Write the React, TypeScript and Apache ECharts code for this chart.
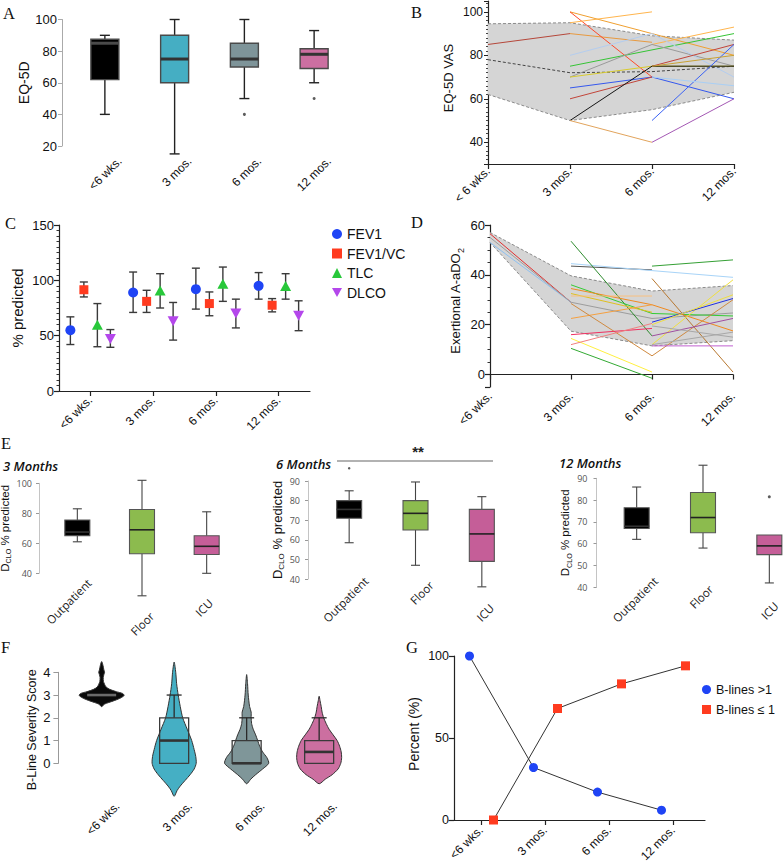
import React, { useEffect, useRef } from 'react';
import * as echarts from 'echarts';

const FONT = '"Liberation Sans", Arial, Helvetica, sans-serif';
const EFONT = '"Open Sans", "Liberation Sans", Arial, sans-serif';
const SERIF = '"Liberation Serif", "Times New Roman", serif';

// ---------------- categories ----------------
const TIME_CATS = ['<6 wks.', '3 mos.', '6 mos.', '12 mos.'];
const TIME_CATS_B = ['< 6 wks.', '3 mos.', '6 mos.', '12 mos.'];
const WARD_CATS = ['Outpatient', 'Floor', 'ICU'];

// ---------------- A: EQ-5D boxes [min, q1, median, q3, max] ----------------
const eq5dBoxes = [
  [40, 62, 85, 87.5, 90],
  [15, 60, 75, 90, 100],
  [50, 70, 75, 85, 100],
  [60, 69, 78, 81.5, 93],
];
const eq5dOutliers = [[2, 40], [3, 50]];
const eq5dFills = ['#000000', '#45AEC3', '#7E9499', '#CC6FA1'];

// ---------------- B: EQ-5D VAS ----------------
const vasUpper = [94.5, 95, 89, 87];
const vasLower = [62, 50, 55, 63];
const vasMean = [78, 72, 72.5, 75];
const vasPatients: (number | null)[][] = [
  [85, 90, null, null],
  [null, 100, 90, 80],
  [null, 90, 86, null],
  [null, 100, 70, null],
  [null, 95, 100, null],
  [null, null, 85, 93],
  [null, 75, 82.5, 90],
  [null, 70, 85, 75],
  [null, 80, 90, 70],
  [null, 70, 75, 75],
  [null, 65, 70, 60],
  [null, 60, 70, null],
  [null, null, 75, 85],
  [null, 50, 75, 75],
  [null, 50, 40, null],
  [null, null, 40, 60],
  [null, null, 50, 85],
  [null, null, 70, 66],
  [null, null, 75, 80],
];
const vasColors = ['#B5473A', '#F0A030', '#E89A40', '#FF4A2A', '#FFB54D', '#FFB54D', '#35C435', '#9A9A9A', '#B4CDEF', '#D9CC2E', '#3558EE', '#C2453A', '#C2453A', '#151515', '#E2A45C', '#A458B4', '#3A62F5', '#A9CFF5', '#C9A235'];

// ---------------- C: PFTs [mean, low, high] ----------------
const pftMeasures = ['FEV1', 'FEV1/VC', 'TLC', 'DLCO'];
const fev1 = [[55, 42, 67], [89, 71, 107.5], [92, 74, 111], [95, 83, 107]];
const fev1vc = [[91.5, 85, 98.5], [81, 71, 91], [79, 68, 89.5], [77.5, 71.5, 83.5]];
const tlc = [[59, 40, 79], [90, 75, 106], [96, 81, 112], [94, 83, 106]];
const dlco = [[48, 39.5, 55.5], [64, 46, 80], [71, 57, 83], [69, 54.5, 81.5]];

// ---------------- D: exertional A-aDO2 ----------------
const aadoUpper = [57, 39.6, 33.5, 35.7];
const aadoLower = [53, 17.4, 11.5, 13.6];
const aadoPatients: (number | null)[][] = [
  [56.5, 29, null, null],
  [53, 29, null, null],
  [55, 29, 22.5, 24.7],
  [null, 43.5, 42, null],
  [null, 44.5, 41.7, 39],
  [null, null, 43.5, 46],
  [null, 53.5, 15.5, null],
  [null, 36, 24.5, 23.5],
  [null, 34.5, 28, 17.5],
  [null, 32.5, 25, null],
  [null, 31.5, 31.5, null],
  [null, 22.5, 28, null],
  [null, 28.5, 7.5, 30],
  [null, null, 38.5, 1],
  [null, null, 12, 38],
  [null, 14.5, 1, null],
  [null, 10.5, -1.5, null],
  [null, 16, 18.5, null],
  [null, 12, 20.5, null],
  [null, null, 21, 30.5],
  [null, null, 15.5, 22.5],
  [null, null, 11.5, 11.5],
  [null, null, 20, 32],
  [null, null, 12, 17],
  [null, null, 19.5, 15],
];
const aadoColors = ['#E03030', '#8EC0F0', '#9C9C9C', '#555555', '#A8D4F8', '#35A035', '#2E8B2E', '#35CC35', '#F08A20', '#E0C020', '#F8C080', '#F5A040', '#D08A40', '#B87830', '#F0E040', '#FFF040', '#33AA33', '#F03060', '#F08080', '#2030E0', '#A050A0', '#C060D0', '#EEDD44', '#A8A8A8', '#A8A8A8'];

// ---------------- E: DLCO by ward [min, q1, median, q3, max] ----------------
const dlco3m = [[61, 65, 67.5, 75.5, 83], [25, 53, 69, 82.5, 102], [40, 52.5, 58, 65, 81]];
const dlco6m = [[58.5, 71, 75.5, 80, 85], [47, 65, 73.5, 80, 89.5], [36, 49, 63, 75.5, 82]];
const dlco6mOutliers = [[0, 96.5]];
const dlco12m = [[62, 67, 68, 76.5, 86], [58, 65, 72, 83.5, 96], [42, 55, 59, 64, 64]];
const dlco12mOutliers = [[2, 81.5]];
const wardFills = ['#000000', '#8CBB4E', '#C55E98'];

// ---------------- F: B-line violins [score, relative density] ----------------
const violinWks = [[2.49, 0], [2.6, 0.12], [2.74, 0.52], [2.85, 0.8], [2.95, 0.97], [3.0, 1.0], [3.07, 0.93], [3.15, 0.65], [3.25, 0.36], [3.35, 0.2], [3.47, 0.13], [3.6, 0.08], [3.77, 0.07], [3.9, 0.1], [4.0, 0.13], [4.1, 0.1], [4.3, 0.06], [4.47, 0]];
const violin3m = [[-1.45, 0], [-1.2, 0.13], [-1.0, 0.27], [-0.75, 0.49], [-0.5, 0.71], [-0.25, 0.89], [0, 0.98], [0.3, 0.96], [0.6, 0.89], [1, 0.78], [1.5, 0.58], [2, 0.38], [2.5, 0.27], [3, 0.18], [3.5, 0.11], [4, 0.07], [4.45, 0]];
const violin6m = [[-0.9, 0], [-0.7, 0.18], [-0.5, 0.4], [-0.25, 0.71], [0, 0.98], [0.25, 0.9], [0.5, 0.71], [0.75, 0.58], [1, 0.49], [1.25, 0.4], [1.5, 0.29], [1.75, 0.22], [2, 0.2], [2.25, 0.2], [2.5, 0.13], [3, 0.07], [3.5, 0.04], [3.9, 0]];
const violin12m = [[-0.9, 0], [-0.7, 0.27], [-0.5, 0.58], [-0.25, 0.84], [0, 0.96], [0.25, 1.0], [0.5, 0.98], [0.75, 0.91], [1, 0.8], [1.25, 0.62], [1.5, 0.44], [1.75, 0.31], [2, 0.2], [2.25, 0.13], [2.5, 0.09], [2.75, 0.04], [2.95, 0]];
const violinProfiles = [violinWks, violin3m, violin6m, violin12m];
const bLineBoxes = [[3, 3, 3, 3, 3], [0, 0, 1, 2, 3], [0, 0, 0, 1, 2], [0, 0, 0.5, 1, 2]];
const violinFills = ['#0A0A0A', '#45AFC4', '#7F9699', '#CC6FA0'];

// ---------------- G: B-lines percent ----------------
const bLinesOver1 = [100, 32, 17, 6];
const bLinesAtMost1 = [0, 68, 83, 94];

// ================= helpers =================
type BoxStyle = { boxW: number; capW: number; fills: string[]; stroke: string; whisker: string; lw: number; medLw: number; medColors: string[] };

function makeBoxRenderer(s: BoxStyle) {
  return (params: any, api: any) => {
    const c = api.value(0);
    const P = (k: number) => api.coord([c, api.value(k)]);
    const lo = P(1), q1 = P(2), md = P(3), q3 = P(4), hi = P(5);
    const x = md[0];
    const h = s.boxW / 2, w = s.capW / 2;
    const ls = { stroke: s.whisker, lineWidth: s.lw };
    const ch: any[] = [];
    if (hi[1] < q3[1] - 0.5) {
      ch.push({ type: 'line', shape: { x1: x, y1: hi[1], x2: x, y2: q3[1] }, style: ls });
      ch.push({ type: 'line', shape: { x1: x - w, y1: hi[1], x2: x + w, y2: hi[1] }, style: ls });
    }
    if (lo[1] > q1[1] + 0.5) {
      ch.push({ type: 'line', shape: { x1: x, y1: q1[1], x2: x, y2: lo[1] }, style: ls });
      ch.push({ type: 'line', shape: { x1: x - w, y1: lo[1], x2: x + w, y2: lo[1] }, style: ls });
    }
    if (q1[1] - q3[1] > 0.5) {
      ch.push({ type: 'rect', shape: { x: x - h, y: q3[1], width: s.boxW, height: q1[1] - q3[1] }, style: { fill: s.fills[params.dataIndex], stroke: s.stroke, lineWidth: s.lw } });
    }
    ch.push({ type: 'line', shape: { x1: x - h, y1: md[1], x2: x + h, y2: md[1] }, style: { stroke: s.medColors[params.dataIndex], lineWidth: s.medLw } });
    return { type: 'group', children: ch };
  };
}

function makePftRenderer(offset: number, marker: string, color: string) {
  return (params: any, api: any) => {
    const c = api.value(0);
    const m = api.coord([c, api.value(1)]);
    const lo = api.coord([c, api.value(2)]);
    const hi = api.coord([c, api.value(3)]);
    const x = m[0] + offset, y = m[1];
    const ls = { stroke: '#3a3a3a', lineWidth: 1.4 };
    const ch: any[] = [
      { type: 'line', shape: { x1: x, y1: hi[1], x2: x, y2: lo[1] }, style: ls },
      { type: 'line', shape: { x1: x - 4, y1: hi[1], x2: x + 4, y2: hi[1] }, style: ls },
      { type: 'line', shape: { x1: x - 4, y1: lo[1], x2: x + 4, y2: lo[1] }, style: ls },
    ];
    if (marker === 'circle') ch.push({ type: 'circle', shape: { cx: x, cy: y, r: 5 }, style: { fill: color } });
    else if (marker === 'rect') ch.push({ type: 'rect', shape: { x: x - 4.5, y: y - 4.5, width: 9, height: 9 }, style: { fill: color } });
    else if (marker === 'triangle') ch.push({ type: 'polygon', shape: { points: [[x, y - 6], [x - 5.5, y + 4], [x + 5.5, y + 4]] }, style: { fill: color } });
    else ch.push({ type: 'polygon', shape: { points: [[x - 5.5, y - 4], [x + 5.5, y - 4], [x, y + 6]] }, style: { fill: color } });
    return { type: 'group', children: ch };
  };
}

function makePointLineRenderer(values: number[], offset: number, marker: string, color: string) {
  return (params: any, api: any) => {
    const i = params.dataIndex;
    const p = api.coord([api.value(0), api.value(1)]);
    const x = p[0] + offset, y = p[1];
    const ch: any[] = [];
    if (i < values.length - 1) {
      const q = api.coord([i + 1, values[i + 1]]);
      ch.push({ type: 'line', shape: { x1: x, y1: y, x2: q[0] + offset, y2: q[1] }, style: { stroke: '#333', lineWidth: 1 } });
    }
    if (marker === 'circle') ch.push({ type: 'circle', shape: { cx: x, cy: y, r: 4.5 }, style: { fill: color } });
    else ch.push({ type: 'rect', shape: { x: x - 4.5, y: y - 4.5, width: 9, height: 9 }, style: { fill: color } });
    return { type: 'group', children: ch };
  };
}

const VIOLIN_HW = 22.5;
function violinRenderer(params: any, api: any) {
  const c = api.value(0);
  const prof = violinProfiles[c];
  const left = prof.map(([y, d]) => { const p = api.coord([c, y]); return [p[0] - d * VIOLIN_HW, p[1]]; });
  const right = prof.slice().reverse().map(([y, d]) => { const p = api.coord([c, y]); return [p[0] + d * VIOLIN_HW, p[1]]; });
  const pts = left.concat(right.slice(1, right.length - 1));
  return { type: 'polygon', shape: { points: pts, smooth: 0.25 }, style: { fill: violinFills[c], stroke: '#333', lineWidth: 1 } };
}

function rangePanel(ax: number, upper: number[], lower: number[], mean: number[] | null, lines: (number | null)[][], colors: string[]) {
  const st = 'band' + ax;
  const base = { type: 'line', xAxisIndex: ax, yAxisIndex: ax, symbol: 'none', silent: true };
  const out: any[] = [
    { ...base, stack: st, data: lower, lineStyle: { opacity: 0 }, z: 1 },
    { ...base, stack: st, data: upper.map((u, i) => +(u - lower[i]).toFixed(2)), lineStyle: { opacity: 0 }, areaStyle: { color: '#d5d5d5', opacity: 1 }, z: 1 },
    { ...base, data: upper, lineStyle: { color: '#8a8a8a', width: 1, type: [3, 2] }, z: 2 },
    { ...base, data: lower, lineStyle: { color: '#8a8a8a', width: 1, type: [3, 2] }, z: 2 },
  ];
  if (mean) out.push({ ...base, data: mean, lineStyle: { color: '#444', width: 1, type: [3, 2] }, z: 2 });
  lines.forEach((d, i) => out.push({ ...base, data: d, connectNulls: false, lineStyle: { color: colors[i], width: 1 }, z: 3 }));
  return out;
}

const hiddenX = (gridIndex: number, data: string[]) => ({
  type: 'category', gridIndex, data,
  axisLine: { show: false }, axisTick: { show: false }, axisLabel: { show: false }, splitLine: { show: false },
});

const shownX = (gridIndex: number, data: string[], boundaryGap: boolean, margin: number) => ({
  type: 'category', gridIndex, data, boundaryGap,
  axisLine: { show: true, lineStyle: { color: '#222', width: 1.2 } },
  axisTick: { show: true, length: 5, alignWithLabel: true, lineStyle: { color: '#222', width: 1.2 } },
  axisLabel: { rotate: 45, margin, fontSize: 12, color: '#111', fontFamily: FONT, interval: 0 },
  splitLine: { show: false },
});

const eName = (size: number) => ({
  name: '{a|D}{b|CLO}{a| % predicted}',
  nameLocation: 'middle',
  nameTextStyle: {
    fontSize: size, fontFamily: FONT, color: '#111',
    rich: {
      a: { fontSize: size, fontFamily: FONT, color: '#111', verticalAlign: 'bottom', padding: [0, 0, 2, 0] },
      b: { fontSize: size * 0.62, fontFamily: FONT, color: '#111', verticalAlign: 'bottom' },
    },
  },
});

const eYAxis = (gridIndex: number, max: number, interval: number, offset: number, margin: number, nameGap: number, nameSize: number) => ({
  type: 'value', gridIndex, min: 40, max, interval, offset,
  axisLine: { show: true, lineStyle: { color: '#c4c4c4', width: 1 } },
  axisTick: { show: true, length: 3, lineStyle: { color: '#999' } },
  axisLabel: { margin, fontSize: 9, color: '#555', fontFamily: EFONT },
  splitLine: { show: false },
  ...eName(nameSize),
  nameGap,
});

function buildOption() {
  const grids = [
    { left: 70, top: 19.5, width: 279, height: 126.5 },   // A
    { left: 488, top: 1, width: 246, height: 163 },        // B
    { left: 59, top: 225, width: 251, height: 166 },       // C
    { left: 490, top: 225, width: 243, height: 162 },      // D
    { left: 45, top: 483.3, width: 194, height: 90 },      // E1
    { left: 316, top: 481, width: 199, height: 98 },       // E2
    { left: 603.5, top: 478.3, width: 199, height: 109 },  // E3
    { left: 65.4, top: 672.3, width: 290, height: 91 },    // F
    { left: 449, top: 656, width: 256, height: 164 },      // G
  ].map((g) => ({ ...g, containLabel: false, outerBoundsMode: 'none' }));

  const xAxes = [
    hiddenX(0, TIME_CATS),
    shownX(1, TIME_CATS_B, false, 5),
    shownX(2, TIME_CATS, true, 7),
    shownX(3, TIME_CATS, false, 7),
    hiddenX(4, WARD_CATS),
    hiddenX(5, WARD_CATS),
    hiddenX(6, WARD_CATS),
    hiddenX(7, TIME_CATS),
    shownX(8, TIME_CATS, true, 8),
  ];

  const blackAxis = {
    axisLine: { show: true, lineStyle: { color: '#222', width: 1.2 } },
    axisTick: { show: true, length: 5, lineStyle: { color: '#222', width: 1.2 } },
    splitLine: { show: false },
  };
  const nameStyle = (size: number, pad?: number[]) => ({ fontSize: size, fontFamily: FONT, color: '#111', padding: pad || [0, 0, 0, 0] });

  const yAxes = [
    {
      type: 'value', gridIndex: 0, min: 20, max: 100, interval: 20, offset: 8,
      axisLine: { show: true, lineStyle: { color: '#aaa' } },
      axisTick: { show: true, length: 4, lineStyle: { color: '#aaa' } },
      axisLabel: { margin: 5, fontSize: 13, color: '#111', fontFamily: FONT },
      splitLine: { show: false },
      name: 'EQ-5D', nameLocation: 'middle', nameGap: 27, nameTextStyle: nameStyle(14),
    },
    {
      type: 'value', gridIndex: 1, min: 30, max: 105, splitNumber: 4, ...blackAxis,
      axisTick: { show: true, length: 4, lineStyle: { color: '#222' } },
      minorTick: { show: true, splitNumber: 10, length: 2, lineStyle: { color: '#444' } },
      axisLabel: { margin: 5, fontSize: 12, color: '#111', fontFamily: FONT, formatter: (v: number) => (v % 20 === 0 ? String(v) : '') },
      name: 'EQ-5D VAS', nameLocation: 'middle', nameGap: 33, nameTextStyle: nameStyle(13, [0, 0, 0, 9]),
    },
    {
      type: 'value', gridIndex: 2, min: 0, max: 150, interval: 50, ...blackAxis,
      minorTick: { show: true, splitNumber: 10, length: 2.5, lineStyle: { color: '#333' } },
      axisLabel: { margin: 5, fontSize: 13, color: '#111', fontFamily: FONT },
      name: '% predicted', nameLocation: 'middle', nameGap: 34, nameTextStyle: nameStyle(15),
    },
    {
      type: 'value', gridIndex: 3, min: -5, max: 60, splitNumber: 3, ...blackAxis,
      minorTick: { show: true, splitNumber: 4, length: 2.5, lineStyle: { color: '#333' } },
      axisLabel: { margin: 5, fontSize: 13, color: '#111', fontFamily: FONT, formatter: (v: number) => (v % 20 === 0 ? String(v) : '') },
      name: '{a|Exertional A-aDO}{b|2}', nameLocation: 'middle', nameGap: 25,
      nameTextStyle: {
        fontSize: 13, fontFamily: FONT, color: '#111', padding: [0, 0, 0, 10],
        rich: {
          a: { fontSize: 13, fontFamily: FONT, color: '#111', verticalAlign: 'bottom', padding: [0, 0, 3, 0] },
          b: { fontSize: 9, fontFamily: FONT, color: '#111', verticalAlign: 'bottom' },
        },
      },
    },
    eYAxis(4, 100, 20, 6, 7, 21, 11.5),
    eYAxis(5, 90, 10, 8, 8, 20, 13),
    eYAxis(6, 90, 10, 7, 9, 22, 11.5),
    {
      type: 'value', gridIndex: 7, min: 0, max: 4, interval: 1, offset: 7,
      axisLine: { show: true, lineStyle: { color: '#999' } },
      axisTick: { show: true, length: 5, lineStyle: { color: '#999' } },
      axisLabel: { margin: 8, fontSize: 13, color: '#111', fontFamily: FONT },
      splitLine: { show: false },
      name: 'B-Line Severity Score', nameLocation: 'middle', nameGap: 20, nameTextStyle: nameStyle(12.5, [0, 24, 0, 0]),
    },
    {
      type: 'value', gridIndex: 8, min: 0, max: 100, interval: 50, offset: -5, ...blackAxis,
      axisLabel: { margin: 5, fontSize: 12.5, color: '#111', fontFamily: FONT },
      name: 'Percent (%)', nameLocation: 'middle', nameGap: 33, nameTextStyle: nameStyle(14, [0, 0, 0, 8]),
    },
  ];

  const series: any[] = [];
  // A
  series.push({
    type: 'custom', xAxisIndex: 0, yAxisIndex: 0, z: 2,
    renderItem: makeBoxRenderer({ boxW: 28, capW: 10, fills: eq5dFills, stroke: '#4a4a4a', whisker: '#222', lw: 1.4, medLw: 3, medColors: ['#4a4a4a', '#333', '#333', '#333'] }),
    data: eq5dBoxes.map((b, i) => [i, ...b]), encode: { x: 0, y: [1, 2, 3, 4, 5] },
  });
  series.push({ type: 'scatter', xAxisIndex: 0, yAxisIndex: 0, data: eq5dOutliers, symbolSize: 3, itemStyle: { color: '#333' }, clip: false, silent: true });

  // B
  series.push(...rangePanel(1, vasUpper, vasLower, vasMean, vasPatients, vasColors));

  // C
  const pftSets = [fev1, fev1vc, tlc, dlco];
  const pftColors = ['#1F44F5', '#FF3B1F', '#28C83A', '#B447EB'];
  const pftMarkers = ['circle', 'rect', 'triangle', 'down'];
  const pftOffsets = [-20, -6.5, 7, 20];
  pftSets.forEach((set, k) => series.push({
    type: 'custom', name: pftMeasures[k], xAxisIndex: 2, yAxisIndex: 2, itemStyle: { color: pftColors[k] },
    data: set.map((v, i) => [i, ...v]), encode: { x: 0, y: [1, 2, 3] },
    renderItem: makePftRenderer(pftOffsets[k], pftMarkers[k], pftColors[k]),
  }));

  // D
  series.push(...rangePanel(3, aadoUpper, aadoLower, null, aadoPatients, aadoColors));

  // E
  const eStyle = { boxW: 25, capW: 9, fills: wardFills, stroke: '#555', whisker: '#444', lw: 1.1, medLw: 1.6, medColors: ['#333', '#222', '#222'] };
  [dlco3m, dlco6m, dlco12m].forEach((set, k) => series.push({
    type: 'custom', xAxisIndex: 4 + k, yAxisIndex: 4 + k, renderItem: makeBoxRenderer(eStyle),
    data: set.map((b, i) => [i, ...b]), encode: { x: 0, y: [1, 2, 3, 4, 5] },
  }));
  series.push({ type: 'scatter', xAxisIndex: 5, yAxisIndex: 5, data: dlco6mOutliers, symbolSize: 2.5, itemStyle: { color: '#333' }, clip: false, silent: true });
  series.push({ type: 'scatter', xAxisIndex: 6, yAxisIndex: 6, data: dlco12mOutliers, symbolSize: 3, itemStyle: { color: '#333' }, clip: false, silent: true });

  // F
  series.push({
    type: 'custom', xAxisIndex: 7, yAxisIndex: 7, renderItem: violinRenderer,
    data: bLineBoxes.map((b, i) => [i, b[2]]), encode: { x: 0, y: 1 }, z: 2,
  });
  series.push({
    type: 'custom', xAxisIndex: 7, yAxisIndex: 7, z: 3,
    renderItem: makeBoxRenderer({ boxW: 29, capW: 15, fills: ['none', 'none', 'none', 'none'], stroke: '#3a3a3a', whisker: '#2a2a2a', lw: 1.3, medLw: 2.6, medColors: ['#6a6a6a', '#333', '#333', '#333'] }),
    data: bLineBoxes.map((b, i) => [i, ...b]), encode: { x: 0, y: [1, 2, 3, 4, 5] },
  });

  // G
  series.push({
    type: 'custom', name: 'B-lines >1', xAxisIndex: 8, yAxisIndex: 8, itemStyle: { color: '#1F44F5' },
    data: bLinesOver1.map((v, i) => [i, v]), encode: { x: 0, y: 1 },
    renderItem: makePointLineRenderer(bLinesOver1, -11.5, 'circle', '#1F44F5'),
  });
  series.push({
    type: 'custom', name: 'B-lines ≤ 1', xAxisIndex: 8, yAxisIndex: 8, itemStyle: { color: '#FF3B1F' },
    data: bLinesAtMost1.map((v, i) => [i, v]), encode: { x: 0, y: 1 },
    renderItem: makePointLineRenderer(bLinesAtMost1, 12.5, 'rect', '#FF3B1F'),
  });

  const legends = [
    {
      orient: 'vertical', left: 327, top: 222, itemWidth: 10, itemHeight: 10, itemGap: 5.5, selectedMode: false,
      textStyle: { fontSize: 14, color: '#111', fontFamily: FONT },
      data: [
        { name: 'FEV1', icon: 'circle' },
        { name: 'FEV1/VC', icon: 'rect' },
        { name: 'TLC', icon: 'triangle' },
        { name: 'DLCO', icon: 'path://M0,0L10,0L5,9Z' },
      ],
    },
    {
      orient: 'vertical', left: 697, top: 678, itemWidth: 9, itemHeight: 9, itemGap: 7, selectedMode: false,
      textStyle: { fontSize: 12.5, color: '#111', fontFamily: FONT },
      data: [
        { name: 'B-lines >1', icon: 'circle' },
        { name: 'B-lines ≤ 1', icon: 'rect' },
      ],
    },
  ];

  return {
    animation: false,
    backgroundColor: '#ffffff',
    textStyle: { fontFamily: FONT },
    grid: grids,
    xAxis: xAxes,
    yAxis: yAxes,
    legend: legends,
    series,
  };
}

// label placement (layout): [dx from category centre, y]
const A_LABEL = { dx: 15, y: 159 };
const F_LABEL = { dx: 16, y: 804 };
const E_LABELS = [
  [[12, 581], [10, 614], [4, 601]],
  [[17, 579], [16, 583], [10, 606]],
  [[19, 579], [8, 587], [7, 604]],
];

function buildGraphics(chart: any) {
  const g: any[] = [];
  const letter = (t: string, x: number, y: number) => g.push({ type: 'text', x, y, silent: true, style: { text: t, fontSize: 16.5, fontFamily: SERIF, fill: '#111', verticalAlign: 'top' } });
  letter('A', 3, 5);
  letter('B', 411, 4);
  letter('C', 5, 215);
  letter('D', 411, 213.5);
  letter('E', 1, 435);
  letter('F', 1, 638.5);
  letter('G', 406, 638.5);

  const rotLabel = (t: string, x: number, y: number, size: number, family: string, color: string) => g.push({
    type: 'text', x, y, rotation: Math.PI / 4, silent: true,
    style: { text: t, fontSize: size, fontFamily: family, fill: color, align: 'right', verticalAlign: 'middle' },
  });

  TIME_CATS.forEach((c, i) => {
    const p = chart.convertToPixel({ gridIndex: 0 }, [i, 20]);
    rotLabel(c, p[0] + A_LABEL.dx, A_LABEL.y, 12, FONT, '#111');
  });
  TIME_CATS.forEach((c, i) => {
    const p = chart.convertToPixel({ gridIndex: 7 }, [i, 0]);
    rotLabel(c, p[0] + F_LABEL.dx, F_LABEL.y, 12, FONT, '#111');
  });
  [4, 5, 6].forEach((gi, k) => {
    WARD_CATS.forEach((c, i) => {
      const p = chart.convertToPixel({ gridIndex: gi }, [i, 40]);
      rotLabel(c, p[0] + E_LABELS[k][i][0], E_LABELS[k][i][1], 11.5, EFONT, '#222');
    });
  });

  const title = (t: string, x: number, y: number) => g.push({ type: 'text', x, y, silent: true, style: { text: t, fontSize: 13, fontStyle: 'italic', fontWeight: 600, fontFamily: EFONT, fill: '#111', verticalAlign: 'middle' } });
  title('3 Months', 3, 465.5);
  title('6 Months', 276, 464);
  title('12 Months', 559, 462.5);

  g.push({ type: 'line', silent: true, shape: { x1: 337, y1: 461, x2: 493, y2: 461 }, style: { stroke: '#666', lineWidth: 1.2 } });
  g.push({ type: 'text', x: 418, y: 451, silent: true, style: { text: '**', fontSize: 15, fontWeight: 'bold', fontFamily: FONT, fill: '#222', align: 'center', verticalAlign: 'middle' } });
  return g;
}

export default function App() {
  const ref = useRef<HTMLDivElement>(null);
  useEffect(() => {
    if (!ref.current) return;
    const chart = echarts.init(ref.current, null, { renderer: 'svg' });
    chart.setOption(buildOption() as any);
    chart.setOption({ graphic: buildGraphics(chart) } as any);
    return () => chart.dispose();
  }, []);
  return <div ref={ref} style={{ position: 'fixed', left: 0, top: 0, width: 783, height: 863, background: '#fff' }} />;
}
